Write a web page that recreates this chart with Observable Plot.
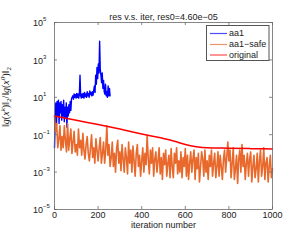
<!DOCTYPE html>
<html><head><meta charset="utf-8">
<script src="https://cdn.jsdelivr.net/npm/d3@7"></script>
<script src="https://cdn.jsdelivr.net/npm/@observablehq/plot@0.6"></script>
<style>
html,body{margin:0;padding:0;background:#fff;}
#chart{width:295px;height:240px;}
</style></head><body><div id="chart"></div>
<script>
const titleText = "res v.s. iter, res0=4.60e\u221205";
const xLabel = "iteration number";
const xTicks = [0, 200, 400, 600, 800, 1000];
const yTicks = [1e-5, 1e-3, 1e-1, 1e1, 1e3, 1e5];
const yExp = ["\u22125", "\u22123", "\u22121", "1", "3", "5"];
const seriesNames = ["aa1", "aa1\u2212safe", "original"];
const seriesColors = ["#0000ff", "#e8692b", "#ff0000"];

// aa1: iterations 0,3,...,255
const aa1Iter = d3.range(0, 256, 3);
const aa1 = [2e-2, 5e-1, 5, 3e-1, 6, 1, 7, 4e-1, 5, 1.5,
  6, 6e-1, 4, 1, 7, 5e-1, 3, 8e-1, 5, 2.5e-1,
  3, 1, 4, 1.5, 6, 2, 8, 10, 12, 8,
  15, 10, 14, 9, 16, 10, 15, 9, 14, 150,
  12, 9, 15, 10, 16, 9, 18, 11, 15, 10,
  20, 12, 16, 10, 22, 14, 18, 12, 20, 13,
  25, 40, 18, 150, 50, 400, 100, 600, 200, 1e4,
  300, 150, 60, 200, 30, 80, 20, 15, 50, 12,
  20, 10, 40, 12, 30, 12];

// aa1-safe: iterations 0,5,...,1000 (ten values per row = 50 iterations)
const safeIter = d3.range(0, 1001, 5);
const safe = [
  1, 1.5e-1, 4e-1, 2e-2, 6e-2, 3e-1, 1.5e-2, 8e-2, 2e-2, 3e-1,
  5e-2, 1.2e-2, 4e-1, 1.5e-2, 6e-2, 2e-1, 1e-2, 4e-2, 1.5e-1, 1.2e-2,
  3e-2, 8e-3, 2e-1, 2e-2, 5e-2, 8e-3, 1.2e-1, 1.5e-2, 5e-3, 3e-2,
  8e-2, 1e-2, 4e-3, 2e-2, 1e-1, 6e-3, 2e-2, 3e-3, 6e-2, 1.5e-2,
  4e-3, 2e-2, 7e-2, 3e-3, 1e-2, 4e-2, 3e-3, 1.5e-2, 3e-1, 8e-3,
  3e-2, 2e-3, 6e-3, 4e-2, 2e-3, 1e-2, 1e-3, 2e-2, 5e-2, 3e-3,
  1.2e-2, 1.2e-3, 3e-2, 5e-3, 1e-3, 2e-2, 6e-3, 8e-4, 4e-2, 3e-3,
  1.5e-2, 1e-3, 2.5e-2, 4e-3, 6e-4, 1e-2, 3e-2, 2e-3, 8e-3, 6e-4,
  4e-3, 2e-2, 1e-3, 1e-2, 2.5e-3, 9e-2, 5e-3, 8e-4, 1.5e-2, 3e-3,
  2e-2, 6e-4, 5e-3, 1.2e-2, 1e-3, 4e-3, 2e-2, 8e-4, 6e-3, 4e-4,
  1e-2, 2.5e-3, 1.5e-2, 6e-4, 3e-3, 8e-3, 5e-4, 1.8e-2, 2e-3, 5e-4,
  1e-2, 3e-3, 2e-2, 8e-4, 4e-3, 1e-3, 1.2e-2, 5e-4, 6e-3, 2e-3,
  1.8e-2, 6e-4, 8e-3, 4e-4, 3e-3, 1.2e-2, 1e-3, 5e-3, 1.5e-2, 4e-4,
  6e-3, 1.5e-3, 1e-2, 3e-4, 2e-3, 1.2e-2, 5e-3, 6e-4, 1.5e-2, 1e-3,
  4e-3, 4e-4, 8e-3, 2e-3, 1.5e-2, 6e-4, 3e-3, 1e-2, 5e-4, 2e-3,
  1.2e-2, 6e-4, 8e-3, 2e-3, 4e-4, 5e-3, 1.5e-2, 1e-3, 6e-3, 4e-2,
  4e-3, 1.5e-2, 5e-4, 3e-3, 2e-2, 4e-4, 1.5e-3, 8e-3, 2.5e-4, 5e-3,
  1.5e-2, 1e-3, 3e-2, 2e-3, 8e-3, 4e-4, 3e-3, 1e-2, 6e-4, 5e-3,
  1.2e-2, 3e-4, 2e-3, 8e-3, 5e-4, 1.5e-3, 1e-2, 3e-4, 4e-3, 1.5e-2,
  6e-4, 2e-3, 2e-2, 4e-4, 3e-3, 6e-3, 3e-4, 2e-3, 8e-3, 5e-4,
  1.5e-3];

// original
const origIter = [0, 100, 200, 300, 400, 450, 500, 550, 600, 650, 700, 800, 900, 1000];
const orig = [1, 0.59, 0.35, 0.2, 0.11, 0.083, 0.063, 0.045, 0.03, 0.023, 0.02, 0.019, 0.018, 0.0174];

const W = 295, H = 240, mL = 54, mR = 23, mT = 22, mB = 31;
const pw = W - mL - mR, ph = H - mT - mB;
const font = "'Liberation Sans', Arial, Helvetica, sans-serif";
const axisColor = "#6a6a6a";

const plot = Plot.plot({
  width: W, height: H,
  marginLeft: mL, marginRight: mR, marginTop: mT, marginBottom: mB,
  style: {fontFamily: font, fontSize: "9px", color: "#222", background: "#fff", overflow: "visible"},
  x: {domain: [0, 1000], axis: null},
  y: {type: "log", domain: [1e-5, 1e5], axis: null},
  marks: [
    Plot.lineY(aa1, {x: (d, i) => aa1Iter[i], y: d => d, stroke: seriesColors[0], strokeWidth: 1.4}),
    Plot.lineY(safe, {x: (d, i) => safeIter[i], y: d => d, stroke: seriesColors[1], strokeWidth: 1.6}),
    Plot.lineY(orig, {x: (d, i) => origIter[i], y: d => d, stroke: seriesColors[2], strokeWidth: 1.5, curve: "monotone-x"}),
    Plot.frame({stroke: axisColor, strokeWidth: 0.8}),
    Plot.ruleX(xTicks, {x: d => d, insetTop: ph - 3, stroke: axisColor, strokeWidth: 0.8}),
    Plot.ruleX(xTicks, {x: d => d, insetBottom: ph - 3, stroke: axisColor, strokeWidth: 0.8}),
    Plot.ruleY(yTicks, {y: d => d, insetRight: pw - 3, stroke: axisColor, strokeWidth: 0.8}),
    Plot.ruleY(yTicks, {y: d => d, insetLeft: pw - 3, stroke: axisColor, strokeWidth: 0.8}),
    Plot.text(xTicks, {x: d => d, text: d => String(d), frameAnchor: "bottom", dy: 8, fill: "#222", fontSize: 9}),
    Plot.text(yTicks, {y: d => d, text: () => "10", frameAnchor: "left", textAnchor: "end", dx: -11.5, dy: 1, fill: "#222", fontSize: 9}),
    Plot.text(yTicks, {y: d => d, text: (d, i) => yExp[i], frameAnchor: "left", textAnchor: "start", dx: -11.5, dy: -3, fill: "#222", fontSize: 6}),
    Plot.text([titleText], {text: d => d, frameAnchor: "top", dy: -9, fill: "#222", fontSize: 9}),
    Plot.text([xLabel], {text: d => d, frameAnchor: "bottom", dy: 18, fill: "#222", fontSize: 9})
  ]
});

document.getElementById("chart").appendChild(plot);
const svg = d3.select(plot);

// y-axis label with sub/superscripts
const yl = svg.append("text")
  .attr("transform", "translate(8.5,97) rotate(-90)")
  .attr("text-anchor", "middle")
  .attr("fill", "#222")
  .attr("font-family", "'Liberation Serif', 'DejaVu Serif', serif")
  .attr("font-size", 10);
const parts = [
  ["\u2016", "n"], ["g", "i"], ["(", "n"], ["x", "i"], ["k", "sup"], [")\u2016", "n"], ["2", "sub"],
  ["/\u2016", "n"], ["g", "i"], ["(", "n"], ["x", "i"], ["0", "sup"], [")\u2016", "n"], ["2", "sub"]
];
let shift = 0;
parts.forEach(([t, kind]) => {
  const ts = yl.append("tspan").text(t);
  if (kind === "i") ts.attr("font-style", "italic");
  let target = 0;
  if (kind === "sup") { ts.attr("font-size", 7).attr("font-style", "italic"); target = -4; }
  if (kind === "sub") { ts.attr("font-size", 7); target = 2.5; }
  ts.attr("dy", target - shift);
  shift = target;
});

// legend inside plot (top-right)
const lg = svg.append("g").attr("font-family", font).attr("font-size", 9).attr("text-anchor", "start");
lg.append("rect").attr("x", 206.5).attr("y", 25.5).attr("width", 62.5).attr("height", 35)
  .attr("fill", "#fff").attr("stroke", "#555").attr("stroke-width", 1);
const rowsY = [33.5, 44.5, 55];
seriesNames.forEach((name, i) => {
  lg.append("line").attr("x1", 210).attr("x2", 227).attr("y1", rowsY[i]).attr("y2", rowsY[i])
    .attr("stroke", seriesColors[i]).attr("stroke-width", 1.2).attr("opacity", 0.7);
  lg.append("text").attr("x", 229).attr("y", rowsY[i]).attr("dy", "0.33em")
    .attr("text-anchor", "start").attr("fill", "#222").text(name);
});
</script>
</body></html>
